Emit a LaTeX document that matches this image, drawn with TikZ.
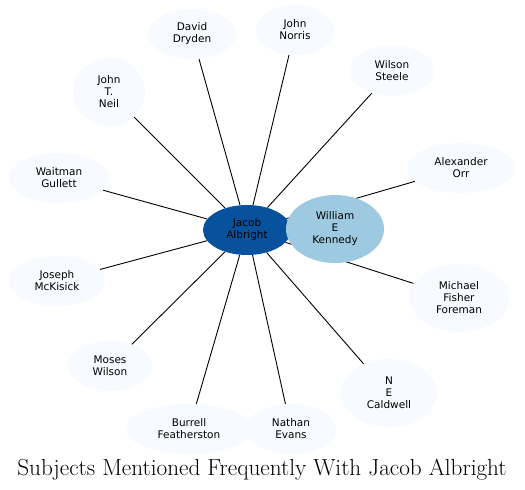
\documentclass[tikz,border=0pt]{standalone}
\usepackage{fontspec}
\newfontfamily\nodefont{DejaVu Sans}
\usetikzlibrary{shapes.geometric, backgrounds}
\definecolor{paleblue}{HTML}{F7FBFF}
\definecolor{darkblue}{HTML}{08519C}
\definecolor{midblue}{HTML}{9ECAE1}

\begin{document}
\begin{tikzpicture}[
  x=1pt, y=-1pt,
  link/.style={draw, line width=0.9pt},
  person/.style 2 args={
    ellipse,
    fill=paleblue,
    minimum width=#1pt,
    minimum height=#2pt,
    inner sep=0pt,
    align=center,
    font=\nodefont\fontsize{10.5}{12}\selectfont
    }
]
\useasboundingbox (0,0) rectangle (525,490);

\node[person={88}{50}, fill=darkblue](jacob) at (247,230) {Jacob\\Albright};
\node[person={98}{68}, fill=midblue](kennedy) at (335,229) {William\\E\\Kennedy};

\node[person={88}{50}](dryden) at (192,34) {David\\Dryden};
\node[person={78}{50}](norris) at (295,30) {John\\Norris};
\node[person={72}{68}](neil) at (109,92) {John\\T.\\Neil};
\node[person={84}{50}](steele) at (392,71) {Wilson\\Steele};
\node[person={108}{50}](orr) at (461,168) {Alexander\\Orr};
\node[person={100}{50}](gullett) at (59,178) {Waitman\\Gullett};
\node[person={96}{50}](mckisick) at (57,281) {Joseph\\McKisick};
\node[person={100}{68}](foreman) at (459,298) {Michael\\Fisher\\Foreman};
\node[person={84}{50}](wilson) at (110,366) {Moses\\Wilson};
\node[person={96}{68}](caldwell) at (389,393) {N\\E\\Caldwell};
\node[person={126}{50}](featherston) at (189,429) {Burrell\\Featherston};
\node[person={90}{50}](evans) at (291,429) {Nathan\\Evans};

% edges from the centre, behind the nodes
\begin{scope}[on background layer]
\foreach \n in {kennedy, dryden, norris, neil, steele, orr, gullett,
  mckisick, foreman, wilson, caldwell, featherston, evans}
  \path[link] (jacob) -- (\n);
\end{scope}

\node[anchor=base, font=\fontsize{23.2}{27}\selectfont](title) at (262,475)
  {Subjects Mentioned Frequently With Jacob Albright};

\end{tikzpicture}
\end{document}
